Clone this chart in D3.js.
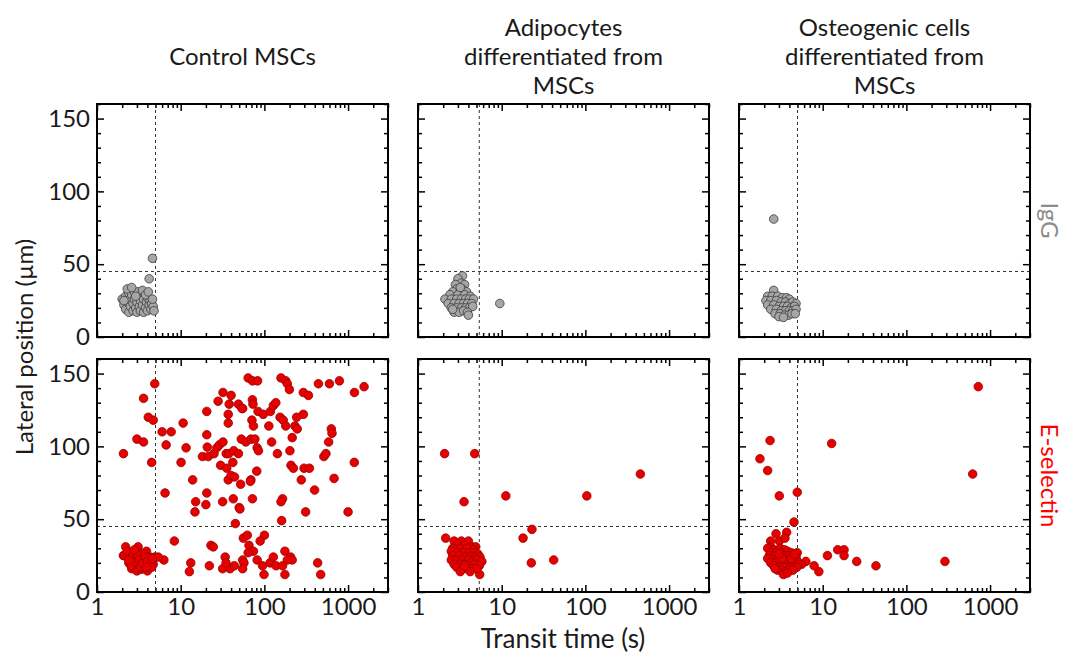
<!DOCTYPE html>
<html>
<head>
<meta charset="utf-8">
<script src="https://cdn.jsdelivr.net/npm/d3@7"></script>
<style>
  body { margin: 0; background: #fff; }
  svg text { font-family: Lato, "Open Sans", sans-serif; }
</style>
</head>
<body>
<script>
// column titles, row labels, ticks
const colTitles = [
  ["Control MSCs"],
  ["Adipocytes", "differentiated from", "MSCs"],
  ["Osteogenic cells", "differentiated from", "MSCs"]
];
const rowLabels = ["IgG", "E-selectin"];
const xTickLabels = [1, 10, 100, 1000];
const yTickLabels = [0, 50, 100, 150];
const transitCut = [5, 5.4, 5];   // vertical dashed line per column (s)
const lateralCut = 45;             // horizontal dashed line (µm)

// [transit time (s), lateral position (µm)]
const controlIgG = [
  [2.0,26],[2.1,22],[2.2,28],[2.2,19],[2.3,24],[2.4,30],[2.4,17],[2.5,21],[2.5,26],[2.6,29],
  [2.7,18],[2.7,23],[2.8,31],[2.8,26],[2.9,20],[3.0,17],[3.0,24],[3.1,28],[3.1,31],[3.2,21],
  [3.3,18],[3.3,25],[3.4,29],[3.5,22],[3.6,17],[3.6,26],[3.7,30],[3.8,20],[3.9,24],[4.0,18],
  [4.0,27],[4.2,22],[4.3,25],[4.4,19],[4.5,23],[4.7,21],[4.8,18],[2.3,33],[2.6,34],[3.5,32],
  [2.1,25],[2.9,28],[3.8,29],[4.1,31],[4.6,26],[4.2,40],[4.6,54]
];
const adipoIgG = [
  [3.4,42],[3.0,40],[3.3,37],[2.8,36],[3.6,36],[2.9,33],[3.4,33],[2.6,31],[3.2,31],[3.8,31],
  [2.4,29],[3.0,29],[3.6,29],[4.2,28],[2.1,26],[2.5,26],[2.9,26],[3.3,26],[3.7,26],[4.1,26],
  [4.6,26],[2.3,23],[2.7,23],[3.1,23],[3.5,23],[3.9,23],[4.4,23],[2.5,20],[2.9,20],[3.3,20],
  [3.7,20],[4.1,20],[4.5,21],[2.7,17],[3.1,17],[3.5,18],[3.9,17],[4.0,15],[2.6,19],[3.2,34],
  [9.5,23]
];
const osteoIgG = [
  [2.6,32],[2.2,28],[2.5,28],[2.9,28],[3.3,27],[3.7,27],[4.0,26],[2.1,25],[2.4,25],[2.8,25],
  [3.2,24],[3.6,24],[4.0,23],[4.4,24],[4.8,23],[2.2,22],[2.6,22],[3.0,21],[3.4,21],[3.8,21],
  [4.2,20],[4.6,21],[2.4,19],[2.8,19],[3.2,18],[3.6,18],[4.0,18],[4.4,18],[4.8,19],[2.7,16],
  [3.1,16],[3.5,15],[3.9,15],[4.3,16],[4.7,16],[3.0,14],[3.4,13.5],[2.6,81]
];
const controlSel = [
  // above the cut
  [64,147],[72,145],[83,145],[158,147],[180,145],[188,143],[199,139],[442,143],[598,143],[788,145],
  [1553,141],[1191,137],[32,137],[40,135],[28,131],[3.6,133],[4.9,143],[20.5,124],[38,129],[49,129],
  [55,126],[72,132],[73,129],[84,124],[97,122],[118,124],[128,128],[137,130],[154,120],[168,118],
  [180,114],[243,120],[292,122],[292,137],[336,135],[232,114],[247,112],[4.1,120],[4.7,118],[10.7,116],
  [6.0,110],[7.7,110],[37,122],[37,116],[71,118],[74,114],[53,105],[60,103],[69,105],[77,105],
  [113,114],[122,103],[215,106],[586,103],[631,112],[643,109],[3.0,105],[3.6,103],[2.07,95],[6.7,101],
  [11.6,99],[18.2,93],[20.8,99.5],[21.3,93],[25,95],[27,99],[29,101],[32,103],[35,95],[37.5,95],
  [43,97],[49,95],[20.5,108],[30,87],[35.5,85],[42,89],[37,77],[40,80],[44,79],[52,74],
  [69,77],[81,83],[82,99],[85,97],[143,95],[202,97],[208,87],[222,85],[298,85],[345,85],
  [276,77],[398,70],[514,93],[544,95],[680,78],[1186,89],[4.5,89],[10.1,89],[6.5,68],[20.5,68],
  [20,60],[13.9,77],[14.8,55],[15.1,62],[31.7,62],[42.5,64],[50,58],[51,57],[72,64],[165,64],
  [158,62],[161,49],[311,55],[1000,55],[45,47],[54,126],[68,76],
  // below the cut
  [8.4,35],[23,32],[24.5,31],[56,37],[62.5,39],[100,39],[89,35],[65.5,32],[74,28],[64,27],
  [34,24],[31.7,16],[38.8,16],[34.8,20],[43.8,18],[55,22],[57,20],[55,16],[82,22],[95,18],
  [99,12],[117,20],[128,24],[138,18],[165,18],[176,12],[176,28],[206,24],[215,22],[188,22],
  [433,20],[471,12],[13.2,20],[12.7,14],[22,18],[6.3,22],
  // cluster
  [2.2,31],[3.1,31],[3.9,28],[2.07,25],[2.4,26],[2.8,27],[3.0,24],[3.4,25],[3.75,22.5],[4.3,24],
  [4.9,24],[5.4,24],[2.4,20],[2.6,21],[2.84,19],[3.26,19.5],[3.7,18],[4.1,19.5],[4.5,21],[4.7,19],
  [2.6,16],[3.0,14.5],[3.4,15.6],[4.0,14.5],[4.5,17],[2.55,18],[2.12,25],[3.1,27],[3.6,26],[2.3,28],
  [2.5,23],[2.7,25],[2.9,21],[3.0,26],[3.2,22],[3.3,17],[3.5,20],[3.8,24],[4.0,21],[3.9,17],
  [2.8,29],[2.4,22],[4.6,23]
];
const adipoSel = [
  [2.08,95],[4.76,95],[3.55,62],[11.2,66],[104,66],[454,81],[23,43],[18,37],[22.6,20],[41.8,22],
  [2.14,37],[5.46,12],
  [2.7,35],[3.3,35],[4.0,35],[3.0,33],[3.6,32],[4.4,31],[4.9,31],[2.6,30],[3.2,30],[3.9,30],
  [4.6,29],[2.5,28],[3.0,27],[3.5,27],[4.1,27],[4.7,27],[5.2,26],[2.6,25],[3.1,25],[3.7,24],
  [4.3,24],[4.9,24],[5.5,24],[2.5,22],[2.9,22],[3.4,22],[4.0,22],[4.5,21],[5.1,22],[5.8,21],
  [2.7,19],[3.2,19],[3.7,19],[4.2,18],[4.8,19],[5.4,18],[2.9,17],[3.4,16],[3.9,16],[4.4,16],
  [5.0,16],[3.2,14],[4.2,14],[3.6,18]
];
const osteoSel = [
  [723,141],[620,81],[12.8,102],[2.35,104],[1.78,91.5],[2.2,83.4],[3.03,66],[4.97,68.5],[4.54,48],[2.77,40],
  [3.71,41],[2.39,35],[3.03,35],[2.39,31],[3.54,37],[15.1,29],[18,29],[18,25],[11.4,25],[25.5,21],
  [43.3,18],[289,21],[9.0,14],[7.9,18],[6.3,21],[4.97,27],[5.6,19],
  [2.2,30],[2.6,29],[3.1,30],[3.5,29],[2.4,27],[2.8,27],[3.3,27],[3.8,28],[4.2,27],[2.3,25],
  [2.7,25],[3.0,24],[3.4,25],[3.9,25],[4.4,25],[4.8,24],[2.2,23],[2.5,22],[2.9,22],[3.2,22],
  [3.6,22],[4.0,22],[4.5,22],[5.0,21],[2.4,20],[2.8,20],[3.1,19],[3.5,20],[3.9,19],[4.3,20],
  [4.7,19],[5.1,19],[2.6,18],[3.0,17],[3.3,17],[3.7,17],[4.1,17],[4.5,17],[4.9,17],[2.9,15],
  [3.2,15],[3.6,14],[4.0,15],[4.4,15],[3.4,12],[3.8,13],[2.7,16],[3.3,23],[4.2,23],[4.6,26],
  [3.0,26]
];

const panelData = [
  [controlIgG, adipoIgG, osteoIgG],
  [controlSel, adipoSel, osteoSel]
];

const W = 1066, H = 655;
const pw = 291, ph = 233;
const lefts = [97, 418, 739];
const tops = [104, 359];
const rowLabelColor = ["#8c8c8c", "#ff0000"];
const dotFill = ["#a6a6a6", "#e60000"];
const dotStroke = ["#3a3a3a", "#9a0000"];

const svg = d3.select("body").append("svg")
  .attr("width", W)
  .attr("height", H);

const x = d3.scaleLog().domain([1, 3000]).range([0, pw]);
const y = d3.scaleLinear().domain([0, 160]).range([ph, 0]);

// tick values
const minorX = [];
[1, 10, 100, 1000].forEach(p => {
  for (let m = 2; m <= 9; m++) if (m * p <= 3000) minorX.push(m * p);
});
const minorY = d3.range(0, 161, 10).filter(v => v % 50 !== 0);

function styleAxis(g) {
  g.select(".domain").remove();
  g.selectAll(".tick line").attr("stroke", "#000").attr("stroke-width", 1.5);
  g.attr("font-size", 24).attr("font-family", "Lato, 'Open Sans', sans-serif");
  g.selectAll(".tick text").attr("fill", "#1a1a1a");
}

for (let r = 0; r < 2; r++) {
  for (let c = 0; c < 3; c++) {
    const g = svg.append("g").attr("transform", `translate(${lefts[c]},${tops[r]})`);

    // minor ticks on all sides
    g.append("g").attr("transform", `translate(0,${ph})`)
      .call(d3.axisBottom(x).tickValues(minorX).tickSize(-4).tickFormat("")).call(styleAxis);
    g.append("g")
      .call(d3.axisTop(x).tickValues(minorX).tickSize(-4).tickFormat("")).call(styleAxis);
    g.append("g")
      .call(d3.axisLeft(y).tickValues(minorY).tickSize(-4).tickFormat("")).call(styleAxis);
    g.append("g").attr("transform", `translate(${pw},0)`)
      .call(d3.axisRight(y).tickValues(minorY).tickSize(-4).tickFormat("")).call(styleAxis);

    // major ticks
    g.append("g").attr("transform", `translate(0,${ph})`)
      .call(d3.axisBottom(x).tickValues(xTickLabels).tickSize(-7).tickPadding(6)
        .tickFormat(r === 1 ? d3.format("d") : ""))
      .call(styleAxis);
    g.append("g")
      .call(d3.axisTop(x).tickValues(xTickLabels).tickSize(-7).tickFormat("")).call(styleAxis);
    g.append("g")
      .call(d3.axisLeft(y).tickValues(yTickLabels).tickSize(-7).tickPadding(7)
        .tickFormat(c === 0 ? d3.format("d") : ""))
      .call(styleAxis);
    g.append("g").attr("transform", `translate(${pw},0)`)
      .call(d3.axisRight(y).tickValues(yTickLabels).tickSize(-7).tickFormat("")).call(styleAxis);

    // dashed cut lines
    g.append("line")
      .attr("x1", x(transitCut[c])).attr("x2", x(transitCut[c]))
      .attr("y1", 0).attr("y2", ph)
      .attr("stroke", "#333").attr("stroke-width", 1).attr("stroke-dasharray", "3,3");
    g.append("line")
      .attr("x1", 0).attr("x2", pw)
      .attr("y1", y(lateralCut)).attr("y2", y(lateralCut))
      .attr("stroke", "#333").attr("stroke-width", 1).attr("stroke-dasharray", "3,3");

    // points
    g.append("g").selectAll("circle")
      .data(panelData[r][c])
      .enter()
      .append("circle")
      .attr("cx", d => x(d[0]))
      .attr("cy", d => y(d[1]))
      .attr("r", 4.3)
      .attr("fill", dotFill[r])
      .attr("stroke", dotStroke[r])
      .attr("stroke-width", 0.8);

    // frame
    g.append("rect")
      .attr("width", pw).attr("height", ph)
      .attr("fill", "none").attr("stroke", "#000").attr("stroke-width", 2);
  }
}

// column titles
colTitles.forEach((lines, c) => {
  const cx = lefts[c] + pw / 2;
  const mid = 56;
  lines.forEach((t, i) => {
    svg.append("text")
      .attr("x", cx)
      .attr("y", mid + (i - (lines.length - 1) / 2) * 29 + 9)
      .attr("text-anchor", "middle")
      .attr("font-size", 24)
      .attr("fill", "#1a1a1a")
      .text(t);
  });
});

// row labels on the right
rowLabels.forEach((t, r) => {
  svg.append("text")
    .attr("transform", `translate(1049,${tops[r] + ph / 2}) rotate(90)`)
    .attr("text-anchor", "middle")
    .attr("dy", "0.35em")
    .attr("font-size", 24)
    .attr("fill", rowLabelColor[r])
    .text(t);
});

// axis titles
svg.append("text")
  .attr("transform", "translate(25,347) rotate(-90)")
  .attr("text-anchor", "middle")
  .attr("dy", "0.35em")
  .attr("font-size", 24)
  .attr("fill", "#1a1a1a")
  .text("Lateral position (µm)");

svg.append("text")
  .attr("x", 563)
  .attr("y", 648)
  .attr("text-anchor", "middle")
  .attr("font-size", 26)
  .attr("fill", "#1a1a1a")
  .text("Transit time (s)");
</script>
</body>
</html>
